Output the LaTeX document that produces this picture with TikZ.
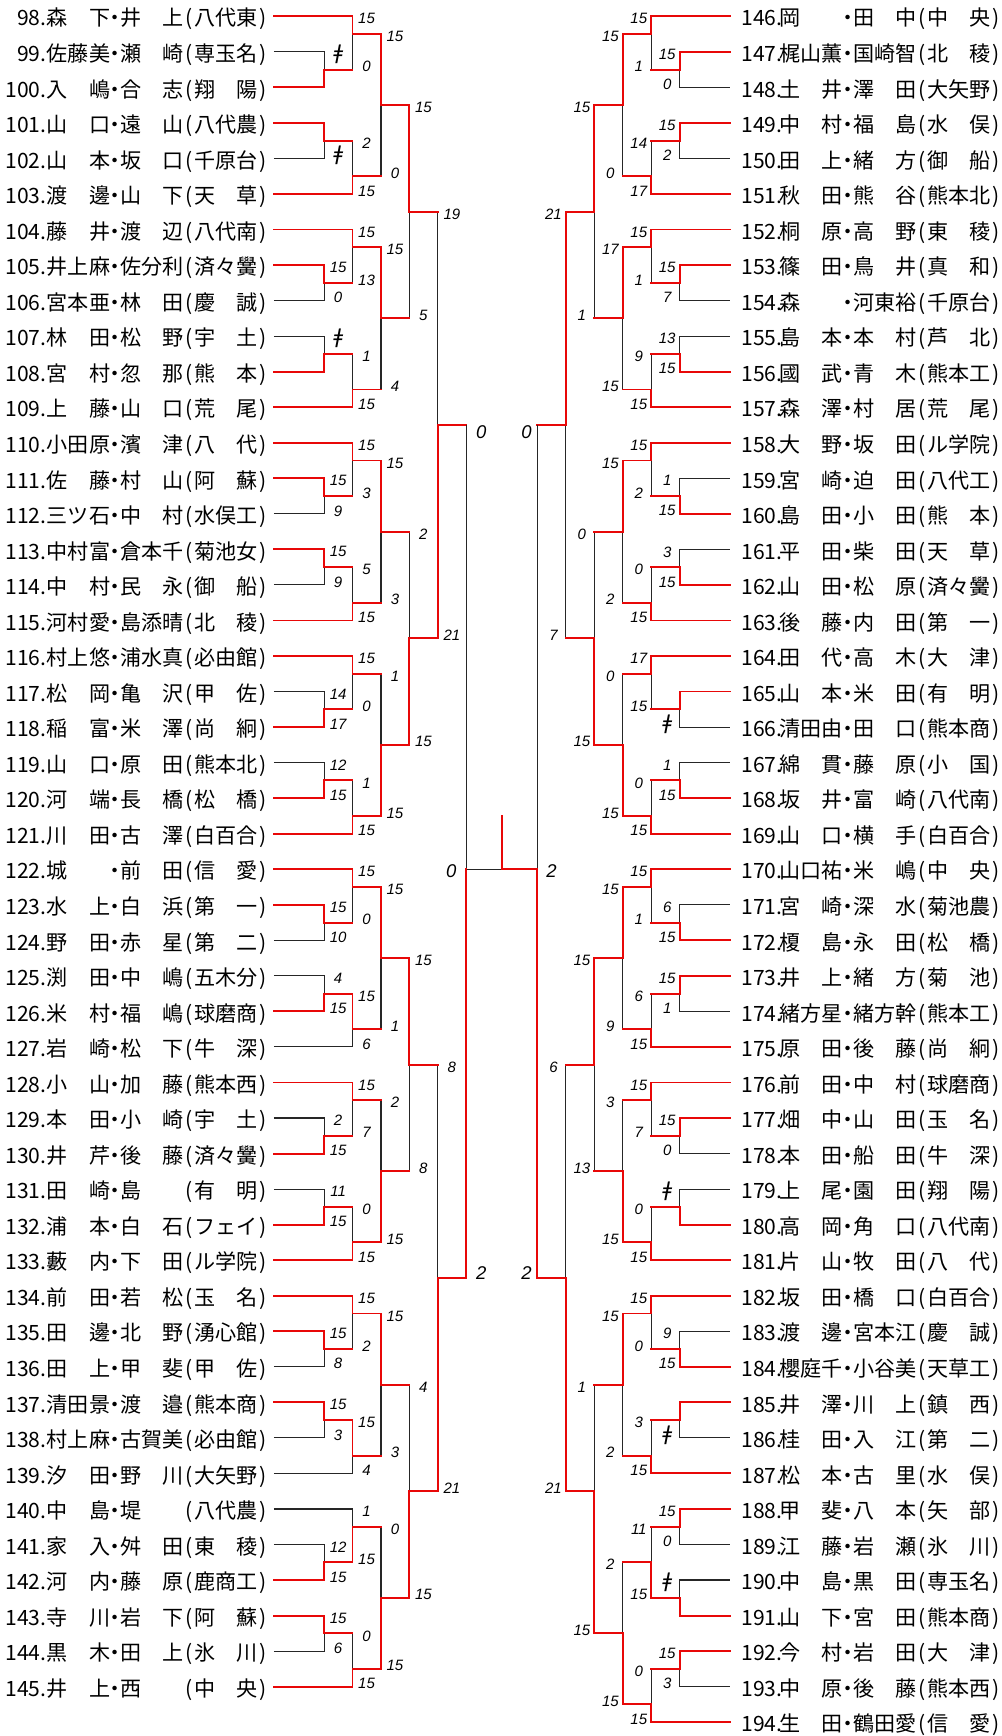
\documentclass[tikz,border=0pt]{standalone}
\usepackage{fontspec}
\setmainfont{Liberation Sans}
\newfontfamily\jpfont{Noto Sans CJK JP}
\newfontfamily\clickfont{DejaVu Sans}
\usetikzlibrary{calc, math}
\definecolor{winred}{RGB}{232, 8, 8}

\newcommand\namefont{\jpfont\fontsize{21.1}{21.1}\selectfont}
\newcommand\scorefont{\itshape\fontsize{15}{15}\selectfont}
\newcommand\finalfont{\itshape\fontsize{18.5}{18.5}\selectfont}
\newcommand\fusen{{\clickfont\itshape\fontsize{20}{20}\selectfont ǂ}}
\newcommand\entrytext[3]{#1\makebox[10.55pt]{・}#2\makebox[10.55pt]{(}#3\makebox[10.55pt]{)}}

\tikzset{
  win/.style={draw=winred, line width=1.9pt, line cap=rect},
  lose/.style={draw=black!85, line width=1.1pt},
  score/.style={font=\scorefont, inner sep=0pt},
  bigscore/.style={font=\finalfont, inner sep=0pt},
  entry/.style={font=\namefont, inner sep=0pt},
}

% #1 direction, #2 x of first round, #3 score shift, #4 matches
\newcommand\drawside[4]{%
  \foreach \mn/\lv/\ta/\bo/\rw/\wn/\sct/\scb in {#4}{
    \pgfmathsetmacro\xx{#2+#1*\lvw*(\lv-1)}
    \pgfmathsetmacro\yy{\rowtop+\rowh*\rw}
    \coordinate (\mn) at (\xx,\yy);
    \if\wn t\draw[lose] (\bo) -| (\mn);\else\draw[lose] (\ta) -| (\mn);\fi
    \node[score] (\mn-top) at ($(\ta -| \mn)+(#1*#3,2.5)$) {\sct};
    \node[score] (\mn-bot) at ($(\bo -| \mn)+(#1*#3,-3)$) {\scb};
  }
  \foreach \mn/\lv/\ta/\bo/\rw/\wn/\sct/\scb in {#4}{
    \if\wn t\draw[win] (\ta) -| (\mn);\else\draw[win] (\bo) -| (\mn);\fi
    \draw[win] (\mn) -- ++(#1*\lvw,0);
  }
}

\begin{document}
\begin{tikzpicture}[x=1pt, y=-1pt]
  \tikzmath{
    \rowtop=16.3;
    \rowh=35.56;
    \lvw=28.45;
  }
  \fill[white] (0,0) rectangle (1001,1736);

  % left block
  \foreach \i/\fa/\fb/\sch [count=\k from 0] in {
    98/森　下/井　上/八代東, 99/佐藤美/瀬　崎/専玉名, 100/入　嶋/合　志/翔　陽,
    101/山　口/遠　山/八代農, 102/山　本/坂　口/千原台, 103/渡　邊/山　下/天　草,
    104/藤　井/渡　辺/八代南, 105/井上麻/佐分利/済々黌, 106/宮本亜/林　田/慶　誠,
    107/林　田/松　野/宇　土, 108/宮　村/忽　那/熊　本, 109/上　藤/山　口/荒　尾,
    110/小田原/濱　津/八　代, 111/佐　藤/村　山/阿　蘇, 112/三ツ石/中　村/水俣工,
    113/中村富/倉本千/菊池女, 114/中　村/民　永/御　船, 115/河村愛/島添晴/北　稜,
    116/村上悠/浦水真/必由館, 117/松　岡/亀　沢/甲　佐, 118/稲　富/米　澤/尚　絅,
    119/山　口/原　田/熊本北, 120/河　端/長　橋/松　橋, 121/川　田/古　澤/白百合,
    122/城　　/前　田/信　愛, 123/水　上/白　浜/第　一, 124/野　田/赤　星/第　二,
    125/渕　田/中　嶋/五木分, 126/米　村/福　嶋/球磨商, 127/岩　崎/松　下/牛　深,
    128/小　山/加　藤/熊本西, 129/本　田/小　崎/宇　土, 130/井　芹/後　藤/済々黌,
    131/田　崎/島　　/有　明, 132/浦　本/白　石/フェイ, 133/藪　内/下　田/ル学院,
    134/前　田/若　松/玉　名, 135/田　邊/北　野/湧心館, 136/田　上/甲　斐/甲　佐,
    137/清田景/渡　邉/熊本商, 138/村上麻/古賀美/必由館, 139/汐　田/野　川/大矢野,
    140/中　島/堤　　/八代農, 141/家　入/舛　田/東　稜, 142/河　内/藤　原/鹿商工,
    143/寺　川/岩　下/阿　蘇, 144/黒　木/田　上/氷　川, 145/井　上/西　　/中　央}{
    \pgfmathsetmacro\yy{\rowtop+\rowh*\k}
    \coordinate (p\i) at (274,\yy);
    \node[entry, anchor=base east] (no\i) at (46.7,\yy+9.7) {\i.};
    \node[entry, anchor=base west] (na\i) at (46.7,\yy+9.7) {\entrytext{\fa}{\fb}{\sch}};
  }

  % right block
  \foreach \i/\fa/\fb/\sch [count=\k from 0] in {
    146/岡　　/田　中/中　央, 147/梶山薫/国崎智/北　稜, 148/土　井/澤　田/大矢野,
    149/中　村/福　島/水　俣, 150/田　上/緒　方/御　船, 151/秋　田/熊　谷/熊本北,
    152/桐　原/高　野/東　稜, 153/篠　田/鳥　井/真　和, 154/森　　/河東裕/千原台,
    155/島　本/本　村/芦　北, 156/國　武/青　木/熊本工, 157/森　澤/村　居/荒　尾,
    158/大　野/坂　田/ル学院, 159/宮　崎/迫　田/八代工, 160/島　田/小　田/熊　本,
    161/平　田/柴　田/天　草, 162/山　田/松　原/済々黌, 163/後　藤/内　田/第　一,
    164/田　代/高　木/大　津, 165/山　本/米　田/有　明, 166/清田由/田　口/熊本商,
    167/綿　貫/藤　原/小　国, 168/坂　井/富　崎/八代南, 169/山　口/横　手/白百合,
    170/山口祐/米　嶋/中　央, 171/宮　崎/深　水/菊池農, 172/榎　島/永　田/松　橋,
    173/井　上/緒　方/菊　池, 174/緒方星/緒方幹/熊本工, 175/原　田/後　藤/尚　絅,
    176/前　田/中　村/球磨商, 177/畑　中/山　田/玉　名, 178/本　田/船　田/牛　深,
    179/上　尾/園　田/翔　陽, 180/高　岡/角　口/八代南, 181/片　山/牧　田/八　代,
    182/坂　田/橋　口/白百合, 183/渡　邊/宮本江/慶　誠, 184/櫻庭千/小谷美/天草工,
    185/井　澤/川　上/鎮　西, 186/桂　田/入　江/第　二, 187/松　本/古　里/水　俣,
    188/甲　斐/八　本/矢　部, 189/江　藤/岩　瀬/氷　川, 190/中　島/黒　田/専玉名,
    191/山　下/宮　田/熊本商, 192/今　村/岩　田/大　津, 193/中　原/後　藤/熊本西,
    194/生　田/鶴田愛/信　愛}{
    \pgfmathsetmacro\yy{\rowtop+\rowh*\k}
    \coordinate (p\i) at (730,\yy);
    \node[entry, anchor=base west] (no\i) at (741.7,\yy+9.7) {\i.};
    \node[entry, anchor=base west] (na\i) at (780,\yy+9.7) {\entrytext{\fa}{\fb}{\sch}};
  }

  \drawside{1}{324.3}{14}{
    la1/1/p99/p100/1.5/b/\fusen/{}, la2/2/p98/la1/0.5/t/15/0,
    la3/1/p101/p102/3.5/t/{}/\fusen, la4/2/la3/p103/4.5/b/2/15,
    la5/3/la2/la4/2.5/t/15/0,
    la6/1/p105/p106/7.5/t/15/0, la7/2/p104/la6/6.5/t/15/13,
    la8/1/p107/p108/9.5/b/\fusen/{}, la9/2/la8/p109/10.5/b/1/15,
    la10/3/la7/la9/8.5/t/15/4, la11/4/la5/la10/5.5/t/15/5,
    la12/1/p111/p112/13.5/t/15/9, la13/2/p110/la12/12.5/t/15/3,
    la14/1/p113/p114/15.5/t/15/9, la15/2/la14/p115/16.5/b/5/15,
    la16/3/la13/la15/14.5/t/15/3,
    la17/1/p117/p118/19.5/b/14/17, la18/2/p116/la17/18.5/t/15/0,
    la19/1/p119/p120/21.5/b/12/15, la20/2/la19/p121/22.5/b/1/15,
    la21/3/la18/la20/20.5/b/1/15, la22/4/la16/la21/17.5/b/2/15,
    la23/5/la11/la22/11.5/b/19/21,
    la24/1/p123/p124/25.5/t/15/10, la25/2/p122/la24/24.5/t/15/0,
    la26/1/p125/p126/27.5/b/4/15, la27/2/la26/p127/28.5/t/15/6,
    la28/3/la25/la27/26.5/t/15/1,
    la29/1/p129/p130/31.5/b/2/15, la30/2/p128/la29/30.5/t/15/7,
    la31/1/p131/p132/33.5/b/11/15, la32/2/la31/p133/34.5/b/0/15,
    la33/3/la30/la32/32.5/b/2/15, la34/4/la28/la33/29.5/t/15/8,
    la35/1/p135/p136/37.5/t/15/8, la36/2/p134/la35/36.5/t/15/2,
    la37/1/p137/p138/39.5/t/15/3, la38/2/la37/p139/40.5/t/15/4,
    la39/3/la36/la38/38.5/t/15/3,
    la40/1/p141/p142/43.5/b/12/15, la41/2/p140/la40/42.5/b/1/15,
    la42/1/p143/p144/45.5/t/15/6, la43/2/la42/p145/46.5/b/0/15,
    la44/3/la41/la43/44.5/b/0/15, la45/4/la39/la44/41.5/b/4/15,
    la46/5/la34/la45/35.5/b/8/21}

  \drawside{-1}{680}{12.4}{
    ra1/1/p147/p148/1.5/t/15/0, ra2/2/p146/ra1/0.5/t/15/1,
    ra3/1/p149/p150/3.5/t/15/2, ra4/2/ra3/p151/4.5/b/14/17,
    ra5/3/ra2/ra4/2.5/t/15/0,
    ra6/1/p153/p154/7.5/t/15/7, ra7/2/p152/ra6/6.5/t/15/1,
    ra8/1/p155/p156/9.5/b/13/15, ra9/2/ra8/p157/10.5/b/9/15,
    ra10/3/ra7/ra9/8.5/t/17/15, ra11/4/ra5/ra10/5.5/t/15/1,
    ra12/1/p159/p160/13.5/b/1/15, ra13/2/p158/ra12/12.5/t/15/2,
    ra14/1/p161/p162/15.5/b/3/15, ra15/2/ra14/p163/16.5/b/0/15,
    ra16/3/ra13/ra15/14.5/t/15/2,
    ra17/1/p165/p166/19.5/t/{}/\fusen, ra18/2/p164/ra17/18.5/t/17/15,
    ra19/1/p167/p168/21.5/b/1/15, ra20/2/ra19/p169/22.5/b/0/15,
    ra21/3/ra18/ra20/20.5/b/0/15, ra22/4/ra16/ra21/17.5/b/0/15,
    ra23/5/ra11/ra22/11.5/t/21/7,
    ra24/1/p171/p172/25.5/b/6/15, ra25/2/p170/ra24/24.5/t/15/1,
    ra26/1/p173/p174/27.5/t/15/1, ra27/2/ra26/p175/28.5/b/6/15,
    ra28/3/ra25/ra27/26.5/t/15/9,
    ra29/1/p177/p178/31.5/t/15/0, ra30/2/p176/ra29/30.5/t/15/7,
    ra31/1/p179/p180/33.5/b/\fusen/{}, ra32/2/ra31/p181/34.5/b/0/15,
    ra33/3/ra30/ra32/32.5/b/3/15, ra34/4/ra28/ra33/29.5/t/15/13,
    ra35/1/p183/p184/37.5/b/9/15, ra36/2/p182/ra35/36.5/t/15/0,
    ra37/1/p185/p186/39.5/t/{}/\fusen, ra38/2/ra37/p187/40.5/b/3/15,
    ra39/3/ra36/ra38/38.5/t/15/2,
    ra40/1/p188/p189/42.5/t/15/0, ra41/1/p190/p191/44.5/b/\fusen/{},
    ra42/2/ra40/ra41/43.5/b/11/15,
    ra43/1/p192/p193/46.5/t/15/3, ra44/2/ra43/p194/47.5/b/0/15,
    ra45/3/ra42/ra44/45.5/b/2/15, ra46/4/ra39/ra45/41.5/b/1/15,
    ra47/5/ra34/ra46/35.5/b/6/21}

  % semifinals and final
  \coordinate (lf) at (466.55,\rowtop+\rowh*24);
  \coordinate (rf) at (537.75,\rowtop+\rowh*24);
  \coordinate (fin) at (502.3,\rowtop+\rowh*24);
  \coordinate (cup) at (502.3,816);
  \draw[lose] (la23 -| lf) -- (lf);
  \draw[lose] (ra23 -| rf) -- (rf);
  \draw[lose] (lf) -- (fin);
  \draw[win] (la46 -| lf) -- (lf);
  \draw[win] (ra47 -| rf) -- (rf) -- (fin) -- (cup);
  \node[bigscore] (lf-top) at ($(la23 -| lf)+(15,7.6)$) {0};
  \node[bigscore] (lf-bot) at ($(la46 -| lf)+(15,-5.4)$) {2};
  \node[bigscore] (rf-top) at ($(ra23 -| rf)+(-11,7.6)$) {0};
  \node[bigscore] (rf-bot) at ($(ra47 -| rf)+(-11,-5.4)$) {2};
  \node[bigscore] (fin-l) at ($(lf)+(-15,2)$) {0};
  \node[bigscore] (fin-r) at ($(rf)+(14,2)$) {2};
\end{tikzpicture}
\end{document}
